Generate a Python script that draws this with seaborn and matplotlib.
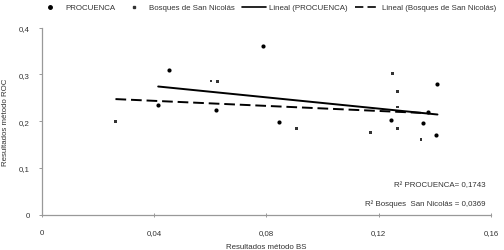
import numpy as np
import pandas as pd
import matplotlib
matplotlib.use("Agg")
import matplotlib.pyplot as plt
from matplotlib.lines import Line2D
from matplotlib.ticker import FuncFormatter
from matplotlib import font_manager
import seaborn as sns

# datos
procuenca_bs = [0.0415, 0.0453, 0.0621, 0.0787, 0.0846, 0.1244, 0.1359, 0.1375, 0.1404, 0.1409]
procuenca_roc = [0.234, 0.309, 0.223, 0.360, 0.198, 0.203, 0.196, 0.220, 0.171, 0.279]
bosques_bs = [0.0263, 0.0603, 0.0627, 0.0908, 0.1170, 0.1250, 0.1268, 0.1268, 0.1268, 0.1350]
bosques_roc = [0.200, 0.286, 0.284, 0.185, 0.175, 0.302, 0.264, 0.230, 0.185, 0.161]
r2_procuenca = "0,1743"
r2_bosques = "0,0369"

df_p = pd.DataFrame({'bs': procuenca_bs, 'roc': procuenca_roc})
df_b = pd.DataFrame({'bs': bosques_bs, 'roc': bosques_roc})

sns.set_style("white")
nombres = {f.name for f in font_manager.fontManager.ttflist}
fam = ['Liberation Sans Narrow'] if 'Liberation Sans Narrow' in nombres else []
plt.rcParams['font.family'] = fam + ['Liberation Sans', 'DejaVu Sans']
fs = 6.5 if fam else 5.7

fig = plt.figure(figsize=(5.04, 2.51), dpi=100)
ax = fig.add_axes([0.0825, 0.141, 0.892, 0.745])

txt = '#333333'
# puntos
sns.scatterplot(data=df_p, x='bs', y='roc', ax=ax, color='black', marker='o', s=9,
                edgecolor='black', linewidth=0)
sns.scatterplot(data=df_b, x='bs', y='roc', ax=ax, color='#333333', marker='s', s=4,
                edgecolor='none', linewidth=0)
# lineas de tendencia
sns.regplot(data=df_p, x='bs', y='roc', ax=ax, scatter=False, ci=None, truncate=True,
            color='black', line_kws={'lw': 1.4})
sns.regplot(data=df_b, x='bs', y='roc', ax=ax, scatter=False, ci=None, truncate=True,
            color='black', line_kws={'lw': 1.4, 'ls': (0, (5.5, 2.5))})

ax.set_xlim(0, 0.16)
ax.set_ylim(0, 0.4)
ax.set_xticks([0, 0.04, 0.08, 0.12, 0.16])
ax.set_yticks([0, 0.1, 0.2, 0.3, 0.4])
coma = FuncFormatter(lambda v, p: '0' if v == 0 else f'{v:g}'.replace('.', ','))
ax.xaxis.set_major_formatter(coma)
ax.yaxis.set_major_formatter(coma)
ax.tick_params(axis='both', labelsize=fs, colors='#999999', labelcolor=txt, length=2.5, width=0.7,
               direction='out')
ax.tick_params(axis='x', pad=9, direction='inout', length=3)
ax.tick_params(axis='y', pad=6)
ax.xaxis.set_ticks_position('bottom')
ax.yaxis.set_ticks_position('left')
for s in ['top', 'right']:
    ax.spines[s].set_visible(False)
for s in ['left', 'bottom']:
    ax.spines[s].set_color('#999999')
    ax.spines[s].set_linewidth(0.9)

ax.set_xlabel('Resultados método BS', fontsize=fs, color=txt, labelpad=5)
ax.set_ylabel('Resultados método ROC', fontsize=fs, color=txt, labelpad=7)

ax.text(0.158, 0.064, 'R² PROCUENCA= ' + r2_procuenca, fontsize=fs, color=txt, ha='right', va='center')
ax.text(0.158, 0.024, 'R² Bosques  San Nicolás = ' + r2_bosques, fontsize=fs, color=txt, ha='right', va='center')

handles = [
    Line2D([], [], ls='none', marker='o', ms=2.5, color='black'),
    Line2D([], [], ls='none', marker='s', ms=2, color='#333333'),
    Line2D([], [], color='black', lw=1.2),
    Line2D([], [], color='black', lw=1.2, ls=(0, (5, 2.5))),
]
labels = ['PROCUENCA', 'Bosques de San Nicolás', 'Lineal (PROCUENCA)', 'Lineal (Bosques de San Nicolás)']
fig.legend(handles, labels, loc='center', bbox_to_anchor=(0.53, 0.966), ncol=4, frameon=False,
           fontsize=fs, handlelength=3.0, handletextpad=0.4, columnspacing=0.9, labelcolor=txt)

fig.savefig('out.png', dpi=100)
